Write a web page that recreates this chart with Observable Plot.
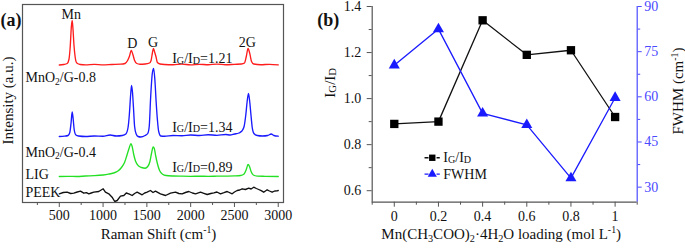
<!DOCTYPE html>
<html><head><meta charset="utf-8">
<script src="https://cdn.jsdelivr.net/npm/d3@7"></script>
<script src="https://cdn.jsdelivr.net/npm/@observablehq/plot@0.6"></script>
<style>
html,body{margin:0;padding:0;background:#fff;}
#wrap{position:relative;width:685px;height:249px;overflow:hidden;background:#fff;}
#pa{position:absolute;left:0;top:0;}
#pb{position:absolute;left:300px;top:0;}
svg{overflow:visible;}
svg text{font-family:'Liberation Serif','Times New Roman',serif;}
</style></head><body><div id="wrap"><div id="pa"></div><div id="pb"></div></div>
<script>
// ---------- Panel (a): Raman spectra (Raman shift cm-1, stacked intensity a.u.) ----------
const ramanShiftTicks = [500, 1000, 1500, 2000, 2500, 3000];
const ramanMinorTicks = [250, 750, 1250, 1750, 2250, 2750];

const specMnO2G08 = [[500,137.5],[550,138],[590,139],[610,143],[625,156],[638,176],[647,182],[656,174],[668,157],[682,145],[700,139.5],[740,138],[800,137.7],[900,138.2],[1000,137.6],[1100,138],[1200,138.3],[1250,139],[1280,142],[1300,146],[1322,152],[1340,148],[1360,142],[1385,139],[1420,138.3],[1480,138.5],[1530,139.5],[1548,142],[1562,149],[1575,154],[1590,150],[1605,145.5],[1620,140],[1650,138.5],[1700,138],[1800,137.8],[1900,138.3],[2000,137.7],[2100,138.2],[2200,137.8],[2300,138.3],[2400,137.8],[2500,138.2],[2580,138.5],[2615,139.5],[2635,146],[2655,154],[2675,149],[2695,141],[2720,138.5],[2800,137.8],[2900,138.2],[3000,137.6]];

const specMnO2G04 = [[500,66],[560,66.3],[600,67],[620,70],[635,80],[647,90.5],[658,84],[670,73],[690,67.5],[720,66.5],[800,66],[900,66.5],[1000,66.3],[1080,67.5],[1150,66.5],[1220,67],[1260,68.5],[1285,75],[1300,88],[1315,108],[1325,117],[1335,111],[1347,95],[1360,76],[1378,68.5],[1400,66],[1430,65.5],[1480,67],[1510,69],[1527,76],[1543,105],[1562,129],[1577,134],[1592,122],[1605,102],[1620,83],[1635,71],[1660,66.5],[1700,66.3],[1800,67],[1900,66.8],[2000,67.5],[2100,67],[2200,67.8],[2300,67.2],[2400,68],[2450,67.5],[2500,68.5],[2550,69.5],[2585,71.5],[2610,76],[2630,88],[2645,101],[2660,109],[2673,102],[2688,88],[2703,75],[2722,69],[2760,67],[2820,66.5],[2880,67],[2920,68.5],[2950,67],[3000,66.3]];

const specLIG = [[500,26],[600,26.2],[700,26],[800,26.5],[900,26.8],[1000,27.5],[1060,28.3],[1120,29.5],[1170,31.5],[1210,35],[1245,40],[1275,48],[1300,55],[1318,58.8],[1332,56],[1350,48],[1370,41.5],[1400,37],[1440,35],[1480,34.3],[1510,36],[1535,41],[1555,50],[1572,55.5],[1585,54],[1600,47],[1620,39],[1645,32],[1680,28.3],[1720,27],[1800,26.5],[1900,26.3],[2000,26.2],[2100,26.3],[2200,26.2],[2300,26.3],[2400,26.4],[2500,26.6],[2570,27],[2610,28.5],[2635,33],[2655,38],[2672,36],[2690,31],[2715,27.5],[2760,26.4],[2850,26.2],[3000,26]];

const specPEEK = [[500,8.7],[545,10],[590,10.3],[630,9],[666,9.3],[705,10.5],[742,11.3],[780,9.3],[810,9.8],[837,8.7],[865,9.5],[894,10.3],[951,11],[1001,13.7],[1027,10.3],[1065,8.7],[1103,5.3],[1133,1],[1161,2],[1199,6.3],[1237,7],[1265,9.5],[1294,8.7],[1332,7],[1360,9],[1389,10.3],[1446,7.7],[1475,9.5],[1503,10.3],[1541,12],[1570,10],[1598,11.3],[1655,8.7],[1713,7],[1770,9.3],[1827,10.3],[1865,9],[1903,8.7],[1940,10],[1979,11],[2020,9.5],[2056,8.7],[2113,10.3],[2150,9.2],[2189,8],[2230,9],[2265,9.7],[2300,10.5],[2341,8.7],[2380,9.8],[2417,11],[2474,8.7],[2500,10.5],[2531,12],[2560,12.5],[2588,13.7],[2625,13],[2663,14.3],[2690,13.5],[2720,15.3],[2750,14],[2777,13],[2805,11.8],[2834,10.3],[2873,12.7],[2900,11.5],[2930,10.3],[2960,11.5],[2987,11.7],[3000,12]];

// text annotations (Raman shift, intensity, text, anchor)
const annotText = ["Mn", "D", "G", "2G", "I~{G}/I~{D}=1.21", "MnO_{2}/G-0.8", "I~{G}/I~{D}=1.34", "MnO_{2}/G-0.4", "I~{G}/I~{D}=0.89", "LIG", "PEEK"];
const annotShift = [637, 1333, 1572, 2646, 1789, 114, 1789, 114, 1789, 114, 114];
const annotInt = [188, 158.7, 160.3, 160.3, 143.7, 124.7, 75.3, 50.3, 35.3, 28, 10.3];
const annotAnchor = ["middle", "middle", "middle", "middle", "start", "start", "start", "start", "start", "start", "start"];

// ---------- Panel (b): IG/ID and FWHM vs Mn(CH3COO)2 loading ----------
const loading = [0, 0.2, 0.4, 0.6, 0.8, 1];
const igid = [0.89, 0.90, 1.34, 1.19, 1.21, 0.92];
const fwhm = [70.5, 82.5, 54.5, 50.7, 33, 59.7];
const loadingTicks = [0, 0.2, 0.4, 0.6, 0.8, 1];
const loadingMinor = [-0.1, 0.1, 0.3, 0.5, 0.7, 0.9, 1.1];
const igidTicks = [0.6, 0.8, 1.0, 1.2, 1.4];
const igidMinor = [0.7, 0.9, 1.1, 1.3];
const fwhmTicks = [30, 45, 60, 75, 90];
const fwhmMinor = [37.5, 52.5, 67.5, 82.5];
const legendLabels = ["I~{G}/I~{D}", "FWHM"];

const FONT = "'Liberation Serif', 'Times New Roman', serif";
const RED = "#ff1c1c", BLUE = "#1a1aff", GREEN = "#24e024", AXIS = "#555", RBLUE = "#4a4aff";

// ---- Panel A ----
const rowsOf = arr => arr.map(([s, v]) => ({s, v}));
const annots = annotText.map((t, i) => ({t, s: annotShift[i], v: annotInt[i], a: annotAnchor[i]}));
const lineOpts = {x: "s", y: "v", strokeWidth: 1.35, curve: "monotone-x"};

const plotA = Plot.plot({
  width: 300, height: 249,
  marginLeft: 22, marginRight: 17, marginTop: 4, marginBottom: 47,
  style: {fontFamily: FONT, fontSize: "14px", background: "transparent", color: "#111"},
  x: {domain: [80, 3060]},
  y: {domain: [0, 198], axis: null},
  marks: [
    Plot.line(rowsOf(specPEEK), {...lineOpts, stroke: "#111", curve: "linear"}),
    Plot.line(rowsOf(specLIG), {...lineOpts, stroke: GREEN}),
    Plot.line(rowsOf(specMnO2G04), {...lineOpts, stroke: BLUE}),
    Plot.line(rowsOf(specMnO2G08), {...lineOpts, stroke: RED}),
    Plot.frame({stroke: AXIS, strokeWidth: 1.2}),
    Plot.axisX({ticks: ramanShiftTicks, tickFormat: d => String(d), tickSize: 5, tickPadding: 3, label: null, stroke: AXIS, fill: "#111", fontSize: 14, fontFamily: FONT}),
    Plot.axisX({ticks: ramanMinorTicks, tickFormat: () => "", tickSize: 3, label: null, stroke: AXIS}),
    Plot.text(annots.filter(d => d.a === "middle"), {x: "s", y: "v", text: "t", textAnchor: "middle", fontSize: 14, fill: "#111"}),
    Plot.text(annots.filter(d => d.a === "start"), {x: "s", y: "v", text: "t", textAnchor: "start", fontSize: 14, fill: "#111"}),
    Plot.text(["Raman Shift (cm^{-1})"], {text: d => d, frameAnchor: "bottom", textAnchor: "middle", dx: 5.5, dy: 36, fontSize: 15, fill: "#111"}),
    Plot.text(["Intensity (a.u.)"], {text: d => d, frameAnchor: "left", textAnchor: "middle", rotate: -90, dx: -14, dy: -3, fontSize: 15, fill: "#111"}),
    Plot.text(["(a)"], {text: d => d, frameAnchor: "top-left", textAnchor: "start", dx: -22, dy: 8.5, fontSize: 18, fontWeight: "bold", fill: "#111"})
  ]
});
document.getElementById("pa").appendChild(plotA);

// ---- Panel B ----
const igDomain = [0.55, 1.4], fwDomain = [25, 90];
const fwToIg = f => igDomain[0] + (f - fwDomain[0]) * (igDomain[1] - igDomain[0]) / (fwDomain[1] - fwDomain[0]);
const igToFw = v => fwDomain[0] + (v - igDomain[0]) * (fwDomain[1] - fwDomain[0]) / (igDomain[1] - igDomain[0]);
const rowsB = loading.map((x, i) => ({x, ig: igid[i], fw: fwToIg(fwhm[i])}));
// legend anchors in data space of panel b
const legendRows = legendLabels.map((t, i) => ({t, y: [0.743, 0.672][i], x1: 0.137, xm: 0.172, x2: 0.206, xt: 0.222}));

const plotB = Plot.plot({
  width: 385, height: 249,
  marginLeft: 71.7, marginRight: 48.3, marginTop: 6, marginBottom: 47.3,
  style: {fontFamily: FONT, fontSize: "14px", background: "transparent", color: "#111"},
  x: {domain: [-0.1, 1.1]},
  y: {domain: igDomain},
  marks: [
    Plot.ruleX([-0.1], {stroke: AXIS, strokeWidth: 1.2}),
    Plot.ruleY([igDomain[0]], {stroke: AXIS, strokeWidth: 1.2}),
    Plot.ruleX([1.1], {stroke: RBLUE, strokeWidth: 1.2}),
    Plot.axisX({ticks: loadingTicks, tickFormat: d => String(d), tickSize: 5, tickPadding: 4, label: null, stroke: AXIS, fill: "#111", fontSize: 14, fontFamily: FONT}),
    Plot.axisX({ticks: loadingMinor, tickFormat: () => "", tickSize: 3, label: null, stroke: AXIS}),
    Plot.axisY({ticks: igidTicks, tickFormat: d3.format(".1f"), tickSize: 5, tickPadding: 6, label: null, stroke: AXIS, fill: "#111", fontSize: 14, fontFamily: FONT}),
    Plot.axisY({ticks: igidMinor, tickFormat: () => "", tickSize: 3, label: null, stroke: AXIS}),
    Plot.axisY({anchor: "right", ticks: fwhmTicks.map(fwToIg), tickFormat: v => String(Math.round(igToFw(v))), tickSize: 4, tickPadding: 3, label: null, stroke: RBLUE, fill: RBLUE, fontSize: 14, fontFamily: FONT}),
    Plot.axisY({anchor: "right", ticks: fwhmMinor.map(fwToIg), tickFormat: () => "", tickSize: 2.5, label: null, stroke: RBLUE}),
    Plot.line(rowsB, {x: "x", y: "ig", stroke: "#111", strokeWidth: 1.3}),
    Plot.line(rowsB, {x: "x", y: "fw", stroke: BLUE, strokeWidth: 1.3}),
    Plot.dot(rowsB, {x: "x", y: "ig", symbol: "square", r: 4.7, fill: "#000"}),
    Plot.dot(rowsB, {x: "x", y: "fw", symbol: "triangle", r: 4.1, fill: BLUE}),
    // legend
    Plot.link(legendRows, {x1: "x1", x2: "x2", y1: "y", y2: "y", stroke: (d, i) => i === 0 ? "#111" : BLUE, strokeWidth: 1.3, strokeDasharray: "4,2"}),
    Plot.dot(legendRows.slice(0, 1), {x: "xm", y: "y", symbol: "square", r: 3.6, fill: "#000"}),
    Plot.dot(legendRows.slice(1), {x: "xm", y: "y", symbol: "triangle", r: 3.4, fill: BLUE}),
    Plot.text(legendRows, {x: "xt", y: "y", text: "t", textAnchor: "start", fontSize: 14, fill: "#111"}),
    // titles
    Plot.text(["Mn(CH_{3}COO)_{2}\u00b74H_{2}O loading (mol L^{-1})"], {text: d => d, frameAnchor: "bottom", textAnchor: "middle", dx: -3.5, dy: 36.3, fontSize: 15, fill: "#111"}),
    Plot.text(["I~{G}/I~{D}"], {text: d => d, frameAnchor: "left", textAnchor: "middle", rotate: -90, dx: -41.7, dy: -21.6, fontSize: 15, fill: "#111"}),
    Plot.text(["FWHM (cm^{-1})"], {text: d => d, frameAnchor: "right", textAnchor: "middle", rotate: -90, dx: 41.3, dy: -13.3, fontSize: 15, fill: "#111"}),
    Plot.text(["(b)"], {text: d => d, frameAnchor: "top-left", textAnchor: "start", dx: -55, dy: 6.5, fontSize: 18, fontWeight: "bold", fill: "#111"})
  ]
});
document.getElementById("pb").appendChild(plotB);

// ---- rich text: _{sub}, ^{sup}, ~{small caps-like} ----
function richify(svg) {
  svg.querySelectorAll("text").forEach(t => {
    const s = t.textContent;
    if (!/[_^~]\{/.test(s)) return;
    const fs = parseFloat(getComputedStyle(t).fontSize) || 14;
    while (t.firstChild) t.removeChild(t.firstChild);
    const re = /([_^~])\{([^}]*)\}|([^_^~]+)/g;
    let m, shift = 0;
    while ((m = re.exec(s))) {
      const ts = document.createElementNS("http://www.w3.org/2000/svg", "tspan");
      let target = 0;
      if (m[1] === "_") { target = fs * 0.2; ts.setAttribute("font-size", (fs * 0.68).toFixed(1)); }
      else if (m[1] === "^") { target = -fs * 0.38; ts.setAttribute("font-size", (fs * 0.65).toFixed(1)); }
      else if (m[1] === "~") { target = fs * 0.04; ts.setAttribute("font-size", (fs * 0.72).toFixed(1)); }
      const d = target - shift;
      if (Math.abs(d) > 1e-6) ts.setAttribute("dy", d.toFixed(2));
      shift = target;
      ts.textContent = m[1] ? m[2] : m[3];
      t.appendChild(ts);
    }
  });
}
richify(plotA);
richify(plotB);
</script></body></html>
